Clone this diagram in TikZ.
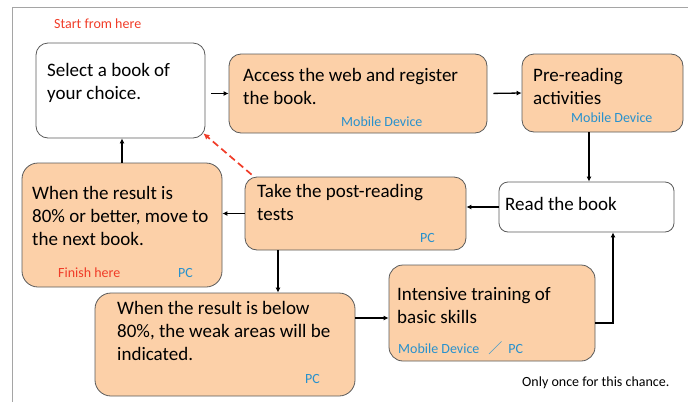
\documentclass[tikz,border=0pt]{standalone}
\usepackage{fontspec}
\setmainfont{Carlito}
\newfontfamily\cjkfont{Noto Sans CJK SC}
\usetikzlibrary{arrows.meta,fit}
\definecolor{peach}{RGB}{252,208,168}
\definecolor{boxline}{RGB}{90,90,90}
\definecolor{devblue}{RGB}{40,145,205}
\definecolor{notered}{RGB}{240,60,40}
\definecolor{framegray}{RGB}{165,165,165}
\tikzset{
  box/.style={draw=boxline, line width=0.8pt, rounded corners=12pt, inner sep=0pt},
  wbox/.style={box, fill=white},
  obox/.style={box, fill=peach},
  % multi-line nodes: the base anchor sits on the last line
  main/.style={anchor=base west, inner sep=0pt, font=\fontsize{19}{23}\selectfont, align=left},
  dev/.style={anchor=base west, inner sep=0pt, font=\fontsize{14}{16}\selectfont, text=devblue},
  red note/.style={anchor=base west, inner sep=0pt, font=\fontsize{14}{16}\selectfont, text=notered},
  flow/.style={-{Latex[length=5pt,width=5pt]}, line width=1.3pt},
  back link/.style={-{Latex[length=6pt,width=6pt]}, notered, line width=1.7pt, dash pattern=on 7pt off 4pt}
}
\begin{document}
\begin{tikzpicture}[x=1pt,y=-1pt]
\useasboundingbox (0,0) rectangle (688,402);
% outer frame
\draw[framegray, line width=0.8pt] (688,7) -- (12,7) -- (12,402);

% boxes
\node[wbox, fit={(36,43) (205,138)}] (b1) {};
\node[obox, fit={(229,54) (487,133)}] (b2) {};
\node[obox, fit={(522,54) (683,132)}] (b3) {};
\node[wbox, rounded corners=9pt, fit={(499,182) (674,232)}] (b4) {};
\node[obox, fit={(245,177) (466,250)}] (b5) {};
\node[obox, rounded corners=16pt, fit={(22,163) (222,287)}] (b6) {};
\node[obox, rounded corners=16pt, fit={(95,293) (355,396)}] (b7) {};
\node[obox, rounded corners=14pt, fit={(389,265) (595,361)}] (b8) {};

% texts
\node[red note] (start) at (54,28) {Start from here};
\node[main] (t1) at (47,99) {Select a book of\\your choice.};
\node[main] (t2) at (243,104) {Access the web and register\\the book.};
\node[dev] (d2) at (341,126) {Mobile Device};
\node[main] (t3) at (533,104) {Pre-reading\\activities};
\node[dev] (d3) at (571,122) {Mobile Device};
\node[main] (t4) at (505,210) {Read the book};
\node[main] (t5) at (257,220) {Take the post-reading\\tests};
\node[dev] (d5) at (420,242) {PC};
\node[main] (t6) at (32,245) {When the result is\\80\% or better, move to\\the next book.};
\node[red note] (finish) at (58,277) {Finish here};
\node[dev] (d6) at (178,277) {PC};
\node[main] (t7) at (117,360) {When the result is below\\80\%, the weak areas will be\\indicated.};
\node[dev] (d7) at (305,383) {PC};
\node[main] (t8) at (397,323) {Intensive training of\\basic skills};
\node[dev] (d8) at (398,353) {Mobile Device\hspace{9pt}{\cjkfont ／}\hspace{6pt}PC};
\node[anchor=base west, inner sep=0pt, font=\fontsize{14}{16}\selectfont] (once) at (522,386) {Only once for this chance.};

% helper coordinates for connector positions
\coordinate (c57) at (278,0);
\coordinate (c78) at (0,318);
\coordinate (c84) at (613,323);

% connectors
\draw[flow, shorten <=6pt] (b1.east |- b2.west) -- (b2.west);
\draw[flow, shorten <=6pt] (b2.east) -- (b3.west);
\draw[flow] ([xshift=-13.5]b3.south) -- ([xshift=-13.5]b3.south |- b4.north);
\draw[flow] (b4.west) -- (b4.west -| b5.east);
\draw[flow] (b5.west) -- (b5.west -| b6.east);
\draw[flow] (b6.north) -- (b1.south -| b6.north);
\draw[flow] (b5.south -| c57) -- (b7.north -| c57);
\draw[flow] (b7.east |- c78) -- (b8.west |- c78);
\draw[flow] (b8.east |- c84) -- (c84) -- (c84 |- b4.south);
\draw[back link] ([shift={(7,-2)}]b5.north west) -- ([shift={(-2,-5)}]b1.south east);
\end{tikzpicture}
\end{document}
